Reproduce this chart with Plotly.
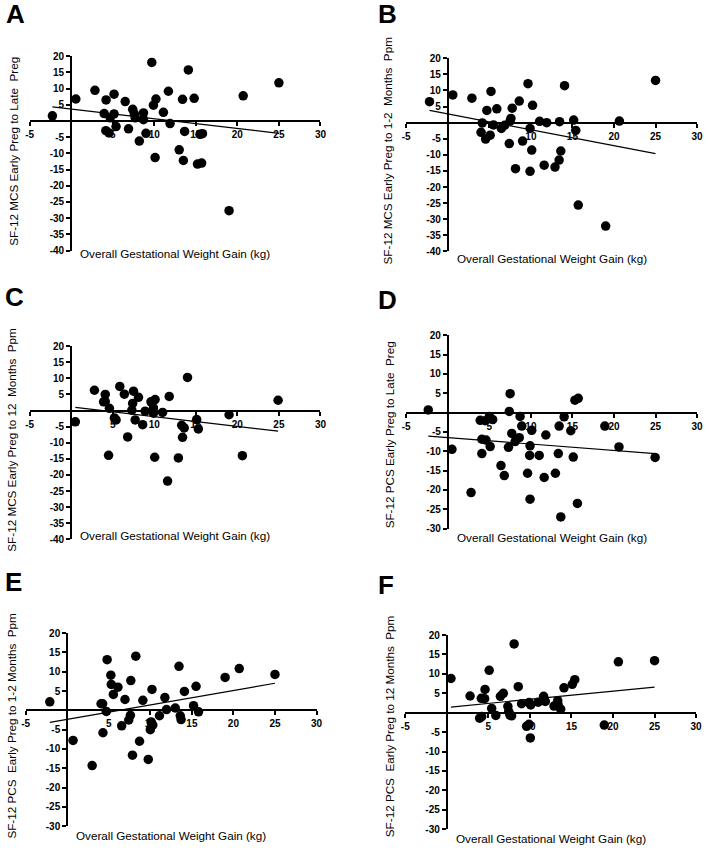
import plotly.graph_objects as go

W, H = 709, 851

# ---------------- data ----------------
x_title = "Overall Gestational Weight Gain (kg)"
panel_letters = ["A", "B", "C", "D", "E", "F"]
y_titles = [
    "SF-12 MCS Early Preg to Late \u00a0Preg",
    "SF-12 MCS Early Preg to 1-2 \u00a0Months \u00a0Ppm",
    "SF-12 MCS Early Preg to 12 \u00a0Months \u00a0Ppm",
    "SF-12 PCS Early Preg to Late \u00a0Preg",
    "SF-12 PCS \u00a0Early Preg to 1-2 Months \u00a0Ppm",
    "SF-12 PCS \u00a0Early Preg to 12 Months \u00a0Ppm",
]
y_mins = [-40, -40, -40, -30, -30, -30]
x_ticks = [-5, 0, 5, 10, 15, 20, 25, 30]

a_x = [-2.26, 0.56, 2.86, 4.2, 3.97, 4.17, 4.56, 4.7, 5.16, 5.16, 5.4, 6.5, 6.9, 7.4, 7.6, 7.7,
       8.2, 8.7, 8.7, 9.0, 9.7, 9.9, 10.2, 10.1, 11.1, 11.7, 11.9, 13.0, 13.4, 13.5, 13.65, 14.1,
       14.8, 15.2, 15.5, 15.7, 15.8, 19.0, 20.7, 25.0]
a_y = [1.6, 6.8, 9.5, 6.5, 2.3, -3.0, -3.7, 1.0, 2.2, 8.3, -1.7, 6.0, -2.4, 3.6, 2.2, 1.0,
       -6.2, 2.5, 0.4, -3.8, 18.1, 4.9, 6.8, -11.3, 2.7, 9.2, -0.8, -8.9, 6.7, -12.2, -3.2, 15.8,
       7.0, -13.3, -4.1, -13.0, -3.9, -27.7, 7.8, 11.8]
a_fit_x = [-2.26, 25.0]
a_fit_y = [4.4, -3.8]

b_x = [-2.2, 0.6, 2.9, 4.15, 4.0, 4.55, 4.7, 5.1, 5.2, 5.5, 5.9, 6.45, 6.85, 7.4, 7.5, 7.6,
       7.75, 8.15, 8.6, 9.0, 9.65, 9.9, 10.1, 9.9, 10.2, 11.05, 11.6, 11.9, 12.9, 13.4, 13.45,
       13.6, 14.05, 15.15, 15.4, 15.7, 19.0, 20.65, 25.0]
b_y = [6.5, 8.6, 7.6, -0.1, -3.0, -5.1, 3.8, -3.9, 9.7, -0.7, 4.3, -1.8, -0.8, -6.5, 0.5, 1.3,
       4.5, -14.3, 6.7, -5.7, 12.1, -1.8, -8.5, -15.1, 5.4, 0.4, -13.2, 0.0, -13.8, -11.6, 0.3,
       -8.8, 11.5, 0.8, -2.4, -25.6, -32.1, 0.5, 13.1]
b_fit_x = [-2.2, 25.0]
b_fit_y = [3.8, -9.6]

c_x = [0.5, 2.8, 3.9, 4.1, 4.1, 4.5, 4.6, 5.2, 5.4, 5.85, 6.4, 6.8, 7.3, 7.4, 7.5, 7.7,
       8.1, 8.6, 8.9, 9.6, 9.9, 9.9, 10.05, 10.1, 11.0, 11.6, 11.8, 12.9, 13.3, 13.4, 13.6,
       14.0, 15.1, 15.3, 19.0, 20.6, 24.9]
c_y = [-3.5, 6.3, 2.7, 5.0, 2.8, -13.9, 0.7, -2.3, -2.9, 7.5, 5.1, -8.2, 0.1, 2.2, 6.0, -2.9,
       4.1, -4.4, -0.2, 2.7, 0.8, -0.8, -14.5, 3.4, -0.6, -21.9, 4.4, -14.7, -4.6, -8.3, -5.4,
       10.3, -2.8, -5.7, -1.3, -14.0, 3.2]
c_fit_x = [0.5, 24.9]
c_fit_y = [1.0, -6.4]

d_x = [-2.35, 0.5, 2.8, 3.9, 4.1, 4.1, 4.5, 4.6, 5.0, 5.1, 5.4, 6.4, 6.8, 7.3, 7.5, 7.4,
       7.7, 8.1, 8.6, 8.7, 8.9, 9.6, 9.85, 9.9, 9.9, 10.1, 11.0, 11.6, 11.8, 12.95, 13.3,
       13.4, 13.6, 14.0, 14.8, 15.1, 15.3, 15.6, 15.7, 18.9, 20.6, 24.95]
d_y = [0.7, -9.5, -20.7, -2.0, -6.9, -10.6, -2.1, -7.1, -1.0, -8.8, -1.8, -13.7, -16.3, -9.0,
       4.9, 0.3, -5.4, -7.5, -6.5, -1.0, -3.5, -15.7, -11.1, -8.6, -22.4, -4.6, -11.1, -16.8,
       -5.8, -15.7, -10.6, -3.5, -27.0, -1.1, -4.7, -11.5, 3.2, -23.5, 3.7, -3.5, -8.9, -11.6]
d_fit_x = [-2.35, 24.95]
d_fit_y = [-6.1, -10.6]

e_x = [-2.1, 0.7, 3.0, 4.07, 4.26, 4.3, 4.7, 4.8, 5.25, 5.3, 5.55, 6.1, 6.55, 6.95, 7.4,
       7.6, 7.65, 7.85, 8.25, 8.7, 9.1, 9.75, 10.0, 10.1, 10.2, 10.3, 11.1, 11.75, 11.95,
       13.0, 13.45, 13.6, 13.7, 14.1, 15.2, 15.5, 15.8, 19.0, 20.7, 25.0]
e_y = [2.2, -7.8, -14.3, 1.7, 1.7, -5.8, -0.3, 13.1, 9.1, 6.7, 4.1, 6.0, -4.0, 2.8, -2.5,
       -1.3, 7.7, -11.6, 14.0, -8.0, 2.6, -12.7, -5.0, -3.0, 5.4, -3.8, -1.4, 3.3, 0.2,
       0.6, 11.4, -1.4, -2.4, 4.9, 1.2, 6.2, -0.4, 8.5, 10.8, 9.3]
e_fit_x = [-2.1, 25.0]
e_fit_y = [-3.1, 7.0]

f_x = [0.5, 2.8, 3.95, 4.15, 4.2, 4.55, 4.6, 5.1, 5.4, 5.9, 6.45, 6.8, 7.35, 7.45, 7.6,
       7.8, 8.1, 8.6, 9.0, 9.6, 9.9, 9.9, 10.1, 10.05, 11.0, 11.65, 11.85, 12.9, 13.35,
       13.4, 13.7, 14.1, 15.1, 15.4, 18.95, 20.65, 25.0]
f_y = [8.8, 4.3, -1.4, 3.7, -1.0, 3.6, 6.0, 10.9, 1.1, -0.7, 4.2, 5.0, 1.6, 0.3, -0.6,
       -0.8, 17.7, 6.7, 2.3, -3.5, -3.0, 2.6, 2.0, -6.5, 2.7, 4.2, 2.9, 1.7, 3.1,
       2.0, 0.9, 6.4, 7.3, 8.5, -3.2, 13.1, 13.4]
f_fit_x = [0.5, 25.0]
f_fit_y = [1.45, 6.6]

series = [
    (a_x, a_y, a_fit_x, a_fit_y),
    (b_x, b_y, b_fit_x, b_fit_y),
    (c_x, c_y, c_fit_x, c_fit_y),
    (d_x, d_y, d_fit_x, d_fit_y),
    (e_x, e_y, e_fit_x, e_fit_y),
    (f_x, f_y, f_fit_x, f_fit_y),
]

# ---------------- layout geometry (pixels) ----------------
# x0 -> x=-5, x1 -> x=30, yt -> y=20, yb -> y=ymin
boxes = [
    dict(x0=26, x1=321, yt=51, yb=248),
    dict(x0=408, x1=703, yt=53, yb=249),
    dict(x0=26, x1=321, yt=345, yb=541),
    dict(x0=408, x1=703, yt=334, yb=530),
    dict(x0=22, x1=317, yt=636, yb=832),
    dict(x0=407, x1=702, yt=638, yb=835),
]
ytitle_pos = [(10, 147), (389, 147), (8, 440), (391, 435), (8, 730), (391, 730)]
xtitle_y = [251, 256, 537, 539, 841, 844]
letter_pos = [(0, 8), (377, 8), (-1, 295.5), (377, 298.5), (-1, 584.5), (377, 587.5)]

FONT = "Arial, Liberation Sans, sans-serif"

def px(x):
    return x / W

def py(y):
    return 1 - y / H

fig = go.Figure()
layout = dict(
    width=W, height=H, margin=dict(l=0, r=0, t=0, b=0),
    paper_bgcolor="white", plot_bgcolor="rgba(0,0,0,0)",
    showlegend=False, font=dict(family=FONT, color="black"),
)
annotations = []

for i, (sx, sy, fx, fy) in enumerate(series):
    n = "" if i == 0 else str(i + 1)
    b = boxes[i]
    ymin = y_mins[i]
    y0px = b["yt"] + 20 * (b["yb"] - b["yt"]) / (20 - ymin)
    x0px = b["x0"] + 5 * (b["x1"] - b["x0"]) / 35
    yticks = list(range(ymin, 21, 5))
    layout["xaxis" + n] = dict(
        domain=[px(b["x0"]), px(b["x1"])], range=[-5, 30], anchor="free",
        position=py(y0px), showgrid=False, zeroline=False, showline=True,
        linecolor="black", linewidth=2, ticks="outside", ticklen=4, tickwidth=1.5,
        tickcolor="black", tickvals=x_ticks,
        ticktext=["" if v == 0 else str(v) for v in x_ticks],
        tickfont=dict(family=FONT, size=10, color="black", weight="bold"),
        layer="below traces", fixedrange=True,
    )
    layout["yaxis" + n] = dict(
        domain=[py(b["yb"]), py(b["yt"])], range=[ymin, 20], anchor="free",
        position=px(x0px), showgrid=False, zeroline=False, showline=True,
        linecolor="black", linewidth=2, ticks="outside", ticklen=4, tickwidth=1.5,
        tickcolor="black", tickvals=yticks,
        ticktext=["" if v == 0 else str(v) for v in yticks],
        tickfont=dict(family=FONT, size=10, color="black", weight="bold"),
        layer="below traces", fixedrange=True,
    )
    xa, ya = "x" + n, "y" + n
    fig.add_trace(go.Scatter(
        x=sx, y=sy, mode="markers", xaxis=xa, yaxis=ya,
        marker=dict(size=9.5, color="black"), cliponaxis=False,
    ))
    fig.add_trace(go.Scatter(
        x=fx, y=fy, mode="lines", xaxis=xa, yaxis=ya,
        line=dict(color="black", width=1.2), cliponaxis=False,
    ))
    # x title
    annotations.append(dict(
        text=x_title, xref="paper", yref="paper",
        x=px((b["x0"] + b["x1"]) / 2), y=py(xtitle_y[i]),
        xanchor="center", yanchor="middle", showarrow=False,
        font=dict(family=FONT, size=11.7, color="black"),
    ))
    # y title
    tx, ty = ytitle_pos[i]
    annotations.append(dict(
        text=y_titles[i], xref="paper", yref="paper",
        x=px(tx), y=py(ty), xanchor="center", yanchor="middle",
        textangle=-90, showarrow=False,
        font=dict(family=FONT, size=11.7, color="black"),
    ))
    # panel letter
    lx, ly = letter_pos[i]
    annotations.append(dict(
        text="<b>" + panel_letters[i] + "</b>", xref="paper", yref="paper",
        x=px(lx), y=py(ly), xanchor="left", yanchor="middle", showarrow=False,
        font=dict(family=FONT, size=26, color="black"),
    ))

layout["annotations"] = annotations
fig.update_layout(**layout)
fig.write_html(
    "out.html",
    config={"displayModeBar": False},
    post_script="document.body.style.margin='0';document.body.style.overflow='hidden';",
)
